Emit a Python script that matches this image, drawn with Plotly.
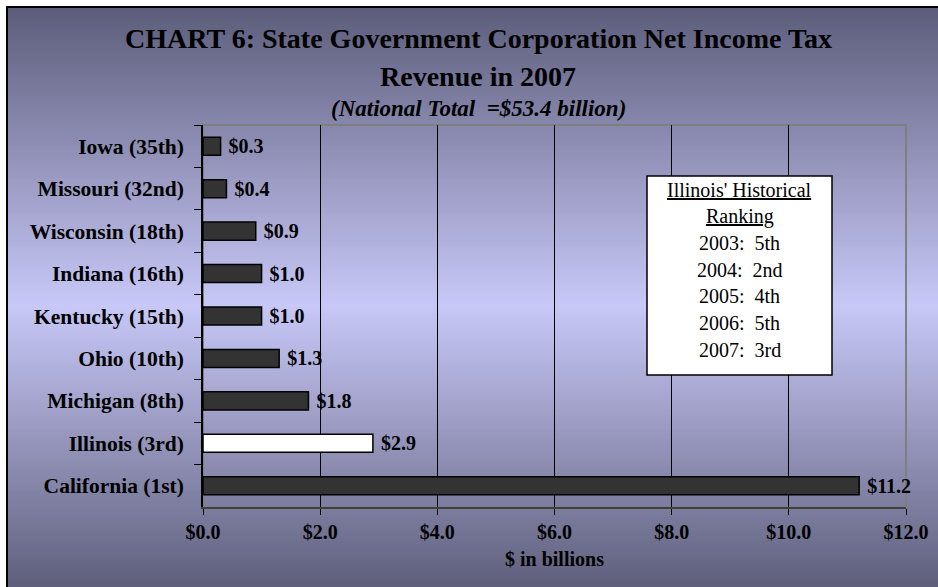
import plotly.graph_objects as go

# ---- data -------------------------------------------------------------
states = [
    "Iowa (35th)", "Missouri (32nd)", "Wisconsin (18th)", "Indiana (16th)",
    "Kentucky (15th)", "Ohio (10th)", "Michigan (8th)", "Illinois (3rd)",
    "California (1st)",
]
revenue = [0.3, 0.4, 0.9, 1.0, 1.0, 1.3, 1.8, 2.9, 11.2]  # $ billions
highlight_state = "Illinois (3rd)"

x_tick_values = [0, 2, 4, 6, 8, 10, 12]
x_tick_labels = ["$0.0", "$2.0", "$4.0", "$6.0", "$8.0", "$10.0", "$12.0"]

rank_years = ["2003", "2004", "2005", "2006", "2007"]
rank_places = ["5th", "2nd", "4th", "5th", "3rd"]

title_line1 = "CHART 6: State Government Corporation Net Income Tax"
title_line2 = "Revenue in 2007"
subtitle = "(National Total\u00a0\u00a0=$53.4 billion)"
x_title = "$ in billions"

# ---- geometry helpers (pixel -> paper fraction) ------------------------
W, H = 938, 587
ML, MR, MT, MB = 203, 32, 125, 80
PW, PH = W - ML - MR, H - MT - MB


def px_x(x):
    return (x - ML) / PW


def px_y(y):
    return (H - MB - y) / PH


SERIF = "Liberation Serif, Times New Roman, serif"

# ---- background: vertical gradient dark -> light -> dark ---------------
top_c, mid_c, bot_c = (92, 92, 122), (200, 200, 248), (90, 90, 118)
y_start, y_mid, y_end = 7, 305, 600
shapes = []
step = 3
y = y_start
while y < y_end:
    yc = y + step / 2
    if yc <= y_mid:
        t = (yc - y_start) / (y_mid - y_start)
        a, b = top_c, mid_c
    else:
        t = (yc - y_mid) / (y_end - y_mid)
        a, b = mid_c, bot_c
    col = tuple(round(a[i] + (b[i] - a[i]) * t) for i in range(3))
    shapes.append(dict(
        type="rect", xref="paper", yref="paper", layer="below",
        x0=px_x(7), x1=px_x(950), y0=px_y(y + step + 0.5), y1=px_y(y),
        fillcolor="rgb(%d,%d,%d)" % col, line=dict(width=0),
    ))
    y += step

# plot-area border (grey)
shapes.append(dict(
    type="rect", xref="paper", yref="paper", layer="below",
    x0=0, x1=1, y0=0, y1=1, line=dict(color="#7f7f7f", width=2),
    fillcolor="rgba(0,0,0,0)",
))
# outer chart frame
shapes.append(dict(
    type="rect", xref="paper", yref="paper", layer="above",
    x0=px_x(7), x1=px_x(960), y0=px_y(610), y1=px_y(7),
    line=dict(color="black", width=2), fillcolor="rgba(0,0,0,0)",
))

# ranking box
box_l, box_r, box_t, box_b = 647, 832, 176, 375
shapes.append(dict(
    type="rect", xref="paper", yref="paper", layer="above",
    x0=px_x(box_l), x1=px_x(box_r), y0=px_y(box_b), y1=px_y(box_t),
    line=dict(color="black", width=1.5), fillcolor="white",
))

# ---- bars -------------------------------------------------------------
colors = ["white" if s == highlight_state else "#333333" for s in states]

fig = go.Figure(go.Bar(
    x=revenue, y=states, orientation="h",
    marker=dict(color=colors, line=dict(color="black", width=1.5)),
    text=["\u00a0$%.1f" % v for v in revenue],
    textposition="outside", cliponaxis=False, constraintext="none",
    textfont=dict(family=SERIF, size=20, color="black", weight="bold"),
    hoverinfo="skip",
))

# ---- annotations --------------------------------------------------------
annotations = [
    dict(text=title_line1, x=px_x(478), y=px_y(38),
         font=dict(family=SERIF, size=28, color="black", weight="bold")),
    dict(text=title_line2, x=px_x(478), y=px_y(76),
         font=dict(family=SERIF, size=28, color="black", weight="bold")),
    dict(text=subtitle, x=px_x(478), y=px_y(109),
         font=dict(family=SERIF, size=23, color="black", weight="bold",
                   style="italic")),
    dict(text=x_title, x=0.5, y=px_y(559),
         font=dict(family=SERIF, size=20, color="black", weight="bold")),
]

box_cx = (box_l + box_r) / 2
box_lines = ["<u>Illinois' Historical</u>", "<u>Ranking</u>"] + [
    "%s:\u00a0\u00a0%s" % (yr, rk) for yr, rk in zip(rank_years, rank_places)
]
for i, line in enumerate(box_lines):
    annotations.append(dict(
        text=line, x=px_x(box_cx), y=px_y(190 + i * 26.6),
        font=dict(family=SERIF, size=20, color="black"),
    ))

for a in annotations:
    a.update(xref="paper", yref="paper", showarrow=False,
             xanchor="center", yanchor="middle")

fig.update_layout(
    width=W, height=H,
    margin=dict(l=ML, r=MR, t=MT, b=MB, autoexpand=False),
    paper_bgcolor="white", plot_bgcolor="rgba(0,0,0,0)",
    bargap=0.575, showlegend=False,
    shapes=shapes, annotations=annotations,
)

fig.update_xaxes(
    range=[0, 12], tickvals=x_tick_values, ticktext=x_tick_labels,
    ticks="outside", ticklen=6, tickcolor="black", tickwidth=1,
    showgrid=True, gridcolor="black", gridwidth=1, zeroline=False,
    showline=True, linecolor="#404040", linewidth=2,
    tickfont=dict(family=SERIF, size=20, color="black", weight="bold"),
    fixedrange=True,
)
fig.update_yaxes(
    type="category", autorange="reversed",
    ticks="outside", tickson="boundaries", ticklen=7,
    tickcolor="black", tickwidth=1,
    showline=True, linecolor="black", linewidth=1.5, showgrid=False,
    ticklabelstandoff=13,
    tickfont=dict(family=SERIF, size=21.5, color="black", weight="bold"),
    fixedrange=True,
)

fig.write_html("out.html")
